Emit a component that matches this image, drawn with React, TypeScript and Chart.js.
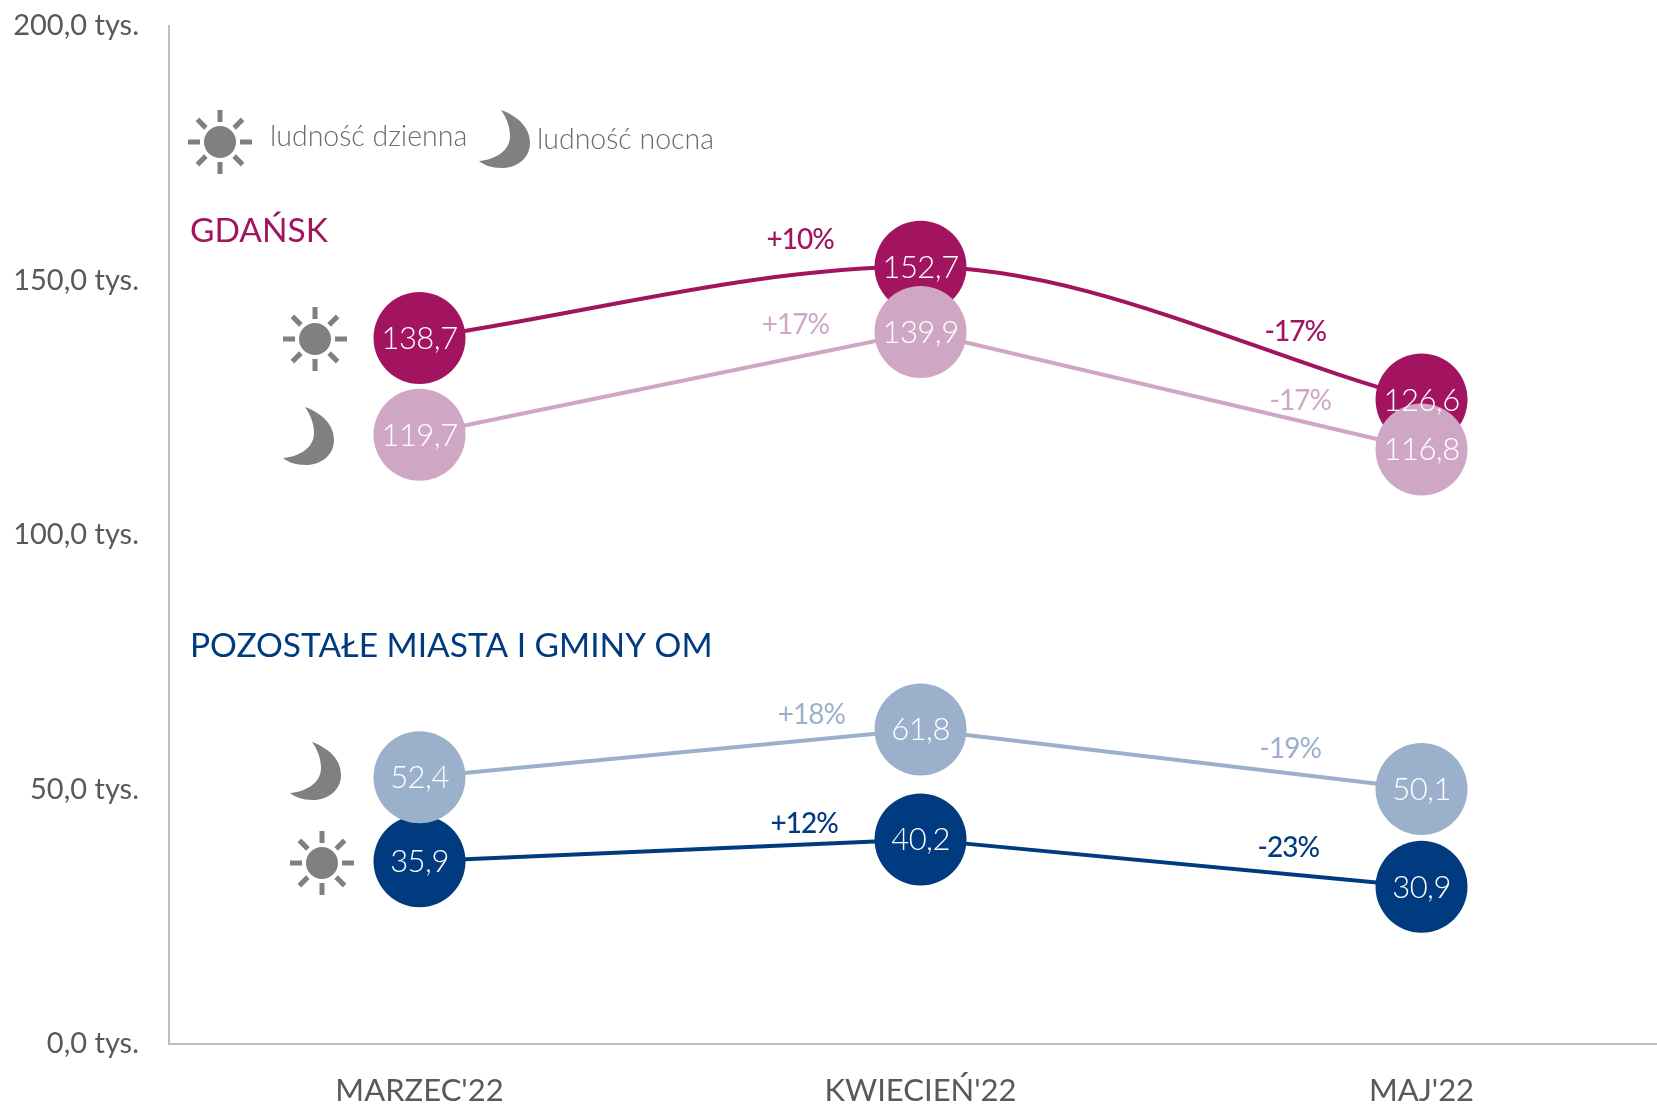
import React, { useEffect, useRef } from "react";
import { Chart, registerables } from "chart.js";

Chart.register(...registerables);

const months = ["MARZEC'22", "KWIECIEŃ'22", "MAJ'22"];
const yTicks = ["0,0 tys.", "50,0 tys.", "100,0 tys.", "150,0 tys.", "200,0 tys."];
const gdanskDay = [138.7, 152.7, 126.6];
const gdanskNight = [119.7, 139.9, 116.8];
const otherDay = [35.9, 40.2, 30.9];
const otherNight = [52.4, 61.8, 50.1];
const gdanskDayChange = ["+10%", "-17%"];
const gdanskNightChange = ["+17%", "-17%"];
const otherDayChange = ["+12%", "-23%"];
const otherNightChange = ["+18%", "-19%"];

const MAGENTA = "#A2145F";
const PINK = "#CFA7C5";
const NAVY = "#003B7F";
const STEEL = "#9BB0CB";
const GREY = "#808080";
const TEXT = "#595959";
const THIN = "Lato";

const fmt = (v: number) => v.toFixed(1).replace(".", ",");

function sun(ctx: CanvasRenderingContext2D, x: number, y: number) {
  ctx.save();
  ctx.translate(x, y);
  ctx.fillStyle = GREY;
  ctx.beginPath();
  ctx.arc(0, 0, 16, 0, Math.PI * 2);
  ctx.fill();
  for (let i = 0; i < 8; i++) {
    ctx.save();
    ctx.rotate((i * Math.PI) / 4);
    ctx.fillRect(-2.5, -32, 5, 12);
    ctx.restore();
  }
  ctx.restore();
}

function moon(ctx: CanvasRenderingContext2D, x: number, y: number) {
  ctx.save();
  ctx.translate(x, y);
  ctx.fillStyle = GREY;
  ctx.beginPath();
  ctx.moveTo(22, 0);
  ctx.bezierCurveTo(41, 7, 51, 19, 51, 33);
  ctx.bezierCurveTo(51, 48, 38, 58, 23, 58);
  ctx.bezierCurveTo(12, 58, 5, 55, 0, 51);
  ctx.bezierCurveTo(14, 50, 31, 42, 31, 26);
  ctx.bezierCurveTo(31, 16, 27, 7, 22, 0);
  ctx.closePath();
  ctx.fill();
  ctx.restore();
}

const overlay = {
  id: "overlay",
  afterDatasetsDraw(chart: any) {
    const { ctx, scales } = chart;
    const xs = scales.x;
    const ys = scales.y;
    ctx.save();
    ctx.textAlign = "center";
    ctx.textBaseline = "middle";

    // values inside the circles
    ctx.fillStyle = "#FFFFFF";
    ctx.font = `300 31px ${THIN}`;
    ctx.letterSpacing = "-0.5px";
    [gdanskDay, gdanskNight, otherDay, otherNight].forEach((s) =>
      s.forEach((v, i) => ctx.fillText(fmt(v), xs.getPixelForValue(i), ys.getPixelForValue(v) + 1))
    );

    // change labels
    ctx.letterSpacing = "-1px";
    const change = (labels: string[], s: number[], color: string, dx: number[], dy: number[], weight: number) => {
      ctx.fillStyle = color;
      ctx.font = `${weight} 28px ${THIN}`;
      labels.forEach((t, i) => {
        const px = xs.getPixelForValue(i + 0.75);
        const py = ys.getPixelForValue(s[i] + (s[i + 1] - s[i]) * 0.75);
        ctx.fillText(t, px + dx[i], py + dy[i]);
      });
    };
    change(gdanskDayChange, gdanskDay, MAGENTA, [5, -1], [-45, -34], 500);
    change(gdanskNightChange, gdanskNight, PINK, [0, 4], [-33, -19], 400);
    change(otherDayChange, otherDay, NAVY, [9, -8], [-21, -27], 500);
    change(otherNightChange, otherNight, STEEL, [16, -6], [-26, -25], 400);
    ctx.letterSpacing = "0px";

    // legend and group titles
    ctx.textAlign = "left";
    ctx.textBaseline = "alphabetic";
    ctx.fillStyle = "#6B6B6B";
    ctx.font = `300 28.5px ${THIN}`;
    ctx.fillText("ludność dzienna", 270, 146);
    ctx.fillText("ludność nocna", 537, 149);
    ctx.font = `400 33.5px ${THIN}`;
    ctx.fillStyle = MAGENTA;
    ctx.fillText("GDAŃSK", 190, 242);
    ctx.fillStyle = NAVY;
    ctx.fillText("POZOSTAŁE MIASTA I GMINY OM", 190, 657);

    sun(ctx, 220, 142);
    moon(ctx, 479, 110);
    sun(ctx, 315, 339);
    moon(ctx, 283, 407);
    moon(ctx, 290, 742);
    sun(ctx, 322, 863);
    ctx.restore();
  },
};

const ds = (label: string, data: number[], color: string, smooth: boolean) => ({
  label,
  data: data.map((y, x) => ({ x, y })),
  borderColor: color,
  backgroundColor: color,
  pointBackgroundColor: color,
  pointBorderColor: color,
  borderWidth: 4,
  pointRadius: 46,
  pointBorderWidth: 0,
  tension: smooth ? 0.4 : 0,
  cubicInterpolationMode: smooth ? "monotone" : "default",
  clip: false,
});

export default function App() {
  const ref = useRef<HTMLCanvasElement>(null);
  useEffect(() => {
    const chart = new Chart(ref.current!, {
      type: "line",
      data: {
        datasets: [
          ds("Gdańsk – ludność nocna", gdanskNight, PINK, false),
          ds("Gdańsk – ludność dzienna", gdanskDay, MAGENTA, true),
          ds("Pozostałe – ludność nocna", otherNight, STEEL, false),
          ds("Pozostałe – ludność dzienna", otherDay, NAVY, false),
        ],
      },
      options: {
        responsive: false,
        animation: false,
        layout: { autoPadding: false, padding: { top: 26, left: 0, right: 0, bottom: 0 } },
        plugins: { legend: { display: false }, tooltip: { enabled: false } },
        scales: {
          x: {
            type: "linear",
            min: -0.5,
            max: 2.47,
            afterBuildTicks: (s: any) => {
              s.ticks = months.map((_, i) => ({ value: i }));
            },
            afterFit: (s: any) => {
              s.height = 61;
            },
            grid: { display: false, drawTicks: false },
            border: { display: true, color: "#BFBFBF", width: 2 },
            ticks: {
              maxRotation: 0,
              autoSkip: false,
              padding: 28,
              color: TEXT,
              font: { family: THIN, size: 31 },
              callback: (v: any) => months[v],
            },
          },
          y: {
            min: 0,
            max: 200,
            afterBuildTicks: (s: any) => {
              s.ticks = yTicks.map((_, i) => ({ value: i * 50 }));
            },
            afterFit: (s: any) => {
              s.width = 169;
              s.paddingTop = 0;
              s.paddingBottom = 0;
            },
            grid: { display: false, drawTicks: false },
            border: { display: true, color: "#BFBFBF", width: 2 },
            ticks: {
              padding: 30,
              color: TEXT,
              font: { family: "Lato", size: 29 },
              callback: (v: any) => yTicks[v / 50],
            },
          },
        },
      },
      plugins: [overlay],
    } as any);
    return () => chart.destroy();
  }, []);
  return (
    <div style={{ position: "fixed", left: 0, top: 0, width: 1657, height: 1105, background: "#fff" }}>
      <canvas ref={ref} width={1657} height={1105} style={{ display: "block" }} />
    </div>
  );
}
